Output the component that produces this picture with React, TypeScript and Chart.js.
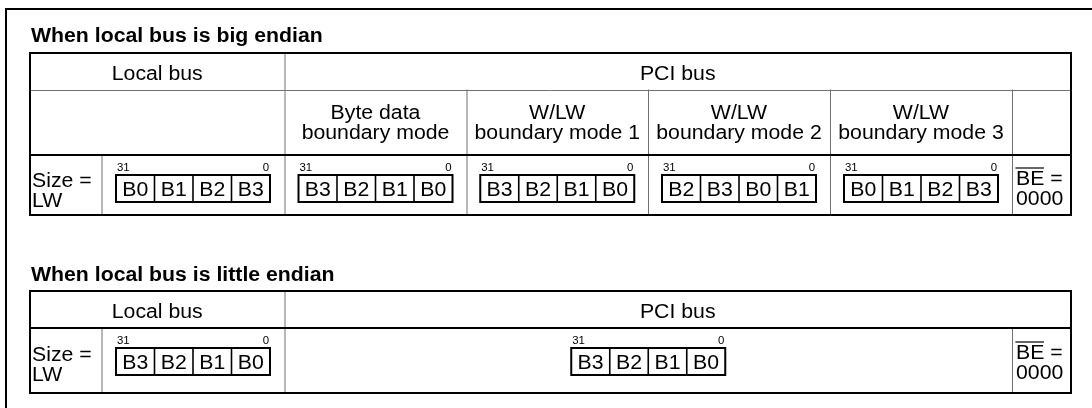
import React, { useEffect, useRef } from "react";
import { Chart, registerables } from "chart.js";

Chart.register(...registerables);

// ---------- content (text / byte orders) ----------
const sectionTitles = ["When local bus is big endian", "When local bus is little endian"];
const busHeaders = ["Local bus", "PCI bus"];
const modeTitles = ["Byte data", "W/LW", "W/LW", "W/LW"];
const modeSubtitles = ["boundary mode", "boundary mode 1", "boundary mode 2", "boundary mode 3"];
const sizeLabels = ["Size =", "LW"];
const bitLabels = ["31", "0"];
const beLabels = ["BE", " =", "0000"];
const bigLocalBytes = ["B0", "B1", "B2", "B3"];
const bigPciBytes0 = ["B3", "B2", "B1", "B0"];
const bigPciBytes1 = ["B3", "B2", "B1", "B0"];
const bigPciBytes2 = ["B2", "B3", "B0", "B1"];
const bigPciBytes3 = ["B0", "B1", "B2", "B3"];
const littleLocalBytes = ["B3", "B2", "B1", "B0"];
const littlePciBytes = ["B3", "B2", "B1", "B0"];

// ---------- layout (values on the hidden linear scales) ----------
const W = 1092;
const H = 408;
const STRETCH = 1.09;
const FS = 19.5;
const FS_SMALL = 10.5;
const FONT = '"Liberation Sans", Arial, Helvetica, sans-serif';
const frame = { left: 6, top: 9 };
const colEdges = [30, 101.5, 284.5, 466.5, 648, 830, 1012, 1071];
const t1Rows = [53, 90, 155, 215];
const t2Rows = [291, 328, 393];
const titleBaselines = [42, 281];
const cellW = 38.5;
const boxH = 27;

const diagramPlugin = {
  id: "endianDiagram",
  afterDraw(chart: any) {
    const ctx: CanvasRenderingContext2D = chart.ctx;
    const xs = chart.scales.x;
    const ys = chart.scales.y;
    const px = (v: number) => xs.getPixelForValue(v);
    const py = (v: number) => ys.getPixelForValue(v);

    const line = (x1: number, y1: number, x2: number, y2: number, w: number, c: string) => {
      ctx.save();
      ctx.beginPath();
      ctx.strokeStyle = c;
      ctx.lineWidth = w;
      ctx.lineCap = "square";
      ctx.moveTo(px(x1), py(y1));
      ctx.lineTo(px(x2), py(y2));
      ctx.stroke();
      ctx.restore();
    };
    const rect = (x1: number, y1: number, x2: number, y2: number, w: number, c: string) => {
      ctx.save();
      ctx.strokeStyle = c;
      ctx.lineWidth = w;
      ctx.strokeRect(px(x1), py(y1), px(x2) - px(x1), py(y2) - py(y1));
      ctx.restore();
    };
    const txt = (s: string, x: number, y: number, align: CanvasTextAlign, size: number, bold = false) => {
      ctx.save();
      ctx.translate(px(x), py(y));
      ctx.scale(STRETCH, 1);
      ctx.font = `${bold ? "bold " : ""}${size}px ${FONT}`;
      ctx.textAlign = align;
      ctx.textBaseline = "alphabetic";
      ctx.fillStyle = "#000";
      ctx.fillText(s, 0, 0);
      ctx.restore();
    };
    const txtWidth = (s: string, size: number) => {
      ctx.save();
      ctx.font = `${size}px ${FONT}`;
      const w = ctx.measureText(s).width * STRETCH;
      ctx.restore();
      return w;
    };
    const byteBox = (cx: number, top: number, bytes: string[]) => {
      const left = cx - cellW * 2;
      const right = cx + cellW * 2;
      txt(bitLabels[0], left + 1, top - 4, "left", FS_SMALL);
      txt(bitLabels[1], right - 1, top - 4, "right", FS_SMALL);
      bytes.forEach((b, i) => {
        txt(b, left + cellW * (i + 0.5), top + boxH / 2 + 7, "center", FS);
        if (i > 0) line(left + cellW * i, top, left + cellW * i, top + boxH, 1.6, "#000");
      });
      rect(left, top, right, top + boxH, 2, "#000");
    };
    const beCell = (x: number, base: number) => {
      txt(beLabels[0], x, base, "left", FS);
      const bw = txtWidth(beLabels[0], FS);
      txt(beLabels[1], x + bw, base, "left", FS);
      line(x, base - 17, x + bw - 1, base - 17, 1.2, "#000");
      txt(beLabels[2], x, base + 20, "left", FS);
    };

    const GRAY = "#707070";
    const [L, SZ, LB, M1, M2, M3, M4, R] = colEdges;

    // outer frame
    line(frame.left, frame.top, W + 2, frame.top, 2, "#000");
    line(frame.left, frame.top, frame.left, H + 2, 2, "#000");

    // ---------- table 1 : big endian ----------
    txt(sectionTitles[0], L + 1, titleBaselines[0], "left", FS, true);
    const [a0, a1, a2, a3] = t1Rows;
    line(L, a1 + 0.5, R, a1 + 0.5, 1, GRAY);
    line(LB + 0.5, a0, LB + 0.5, a3, 1, GRAY);
    [M1, M2, M3, M4].forEach((m) => line(m + 0.5, a1, m + 0.5, a3, 1, GRAY));
    line(SZ + 0.5, a2, SZ + 0.5, a3, 1, GRAY);
    line(L, a2, R, a2, 2, "#000");
    rect(L, a0, R, a3, 2, "#000");

    txt(busHeaders[0], (L + LB) / 2, a0 + 27, "center", FS);
    txt(busHeaders[1], (LB + R) / 2, a0 + 27, "center", FS);
    const modeEdges = [LB, M1, M2, M3, M4];
    modeTitles.forEach((t, i) => {
      const cx = (modeEdges[i] + modeEdges[i + 1]) / 2;
      txt(t, cx, a1 + 29, "center", FS);
      txt(modeSubtitles[i], cx, a1 + 49, "center", FS);
    });
    txt(sizeLabels[0], L + 2, a2 + 32, "left", FS);
    txt(sizeLabels[1], L + 2, a2 + 52, "left", FS);
    const bt1 = a2 + 20;
    byteBox((SZ + LB) / 2, bt1, bigLocalBytes);
    const pciRows = [bigPciBytes0, bigPciBytes1, bigPciBytes2, bigPciBytes3];
    pciRows.forEach((bytes, i) => byteBox((modeEdges[i] + modeEdges[i + 1]) / 2, bt1, bytes));
    beCell(M4 + 4, a2 + 30);

    // ---------- table 2 : little endian ----------
    txt(sectionTitles[1], L + 1, titleBaselines[1], "left", FS, true);
    const [b0, b1, b2] = t2Rows;
    line(LB + 0.5, b0, LB + 0.5, b2, 1, GRAY);
    line(M4 + 0.5, b1, M4 + 0.5, b2, 1, GRAY);
    line(SZ + 0.5, b1, SZ + 0.5, b2, 1, GRAY);
    line(L, b1, R, b1, 2, "#000");
    rect(L, b0, R, b2, 2, "#000");
    txt(busHeaders[0], (L + LB) / 2, b0 + 27, "center", FS);
    txt(busHeaders[1], (LB + R) / 2, b0 + 27, "center", FS);
    txt(sizeLabels[0], L + 2, b1 + 33, "left", FS);
    txt(sizeLabels[1], L + 2, b1 + 53, "left", FS);
    const bt2 = b1 + 20;
    byteBox((SZ + LB) / 2, bt2, littleLocalBytes);
    byteBox((LB + M4) / 2, bt2, littlePciBytes);
    beCell(M4 + 4, b1 + 31);
  },
};

export default function App() {
  const ref = useRef<HTMLCanvasElement | null>(null);
  useEffect(() => {
    document.body.style.margin = "0";
    if (!ref.current) return;
    const chart = new Chart(ref.current, {
      type: "scatter",
      data: { datasets: [{ data: [], pointRadius: 0 }] },
      options: {
        animation: false,
        responsive: false,
        maintainAspectRatio: false,
        devicePixelRatio: 1,
        layout: { padding: 0 },
        plugins: { legend: { display: false }, tooltip: { enabled: false } },
        scales: {
          x: { type: "linear", min: 0, max: W, display: false },
          y: { type: "linear", min: 0, max: H, reverse: true, display: false },
        },
      },
      plugins: [diagramPlugin],
    });
    return () => chart.destroy();
  }, []);
  return (
    <div style={{ position: "absolute", left: 0, top: 0, width: W, height: H, background: "#fff" }}>
      <canvas ref={ref} width={W} height={H} style={{ width: W, height: H, display: "block" }} />
    </div>
  );
}
